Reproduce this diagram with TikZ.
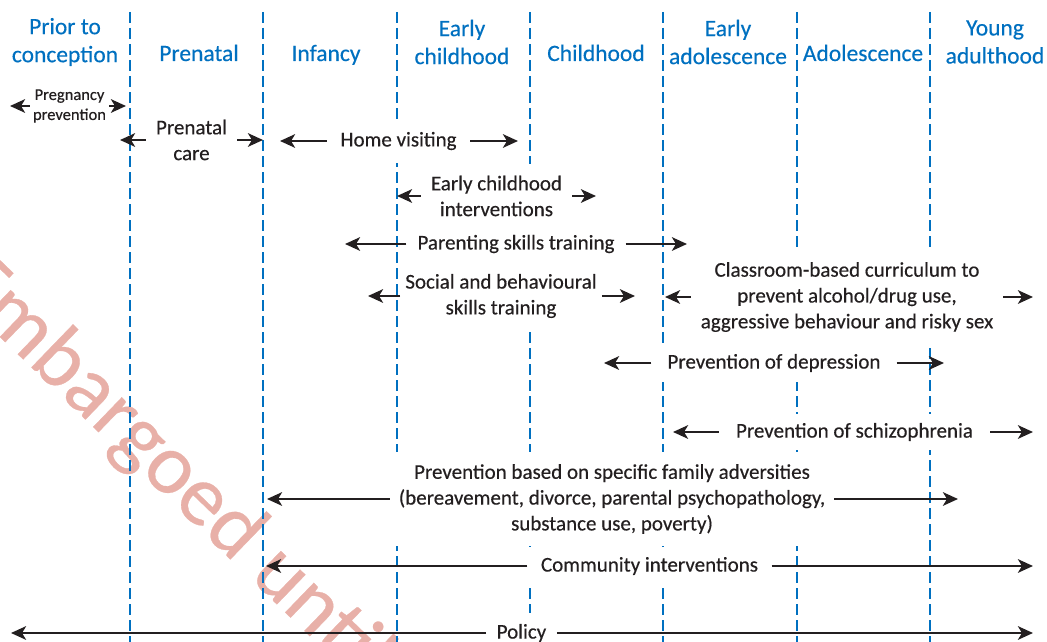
\documentclass[tikz,border=0pt]{standalone}
\usepackage{fontspec}
\setmainfont{Carlito}[FakeBold=0.35]
\usetikzlibrary{arrows.meta}
\definecolor{hdrblue}{RGB}{0,112,192}
\definecolor{ink}{RGB}{35,31,32}
\definecolor{wmark}{RGB}{232,176,168}
\newcommand{\bodyfnt}{\fontsize{21}{25.8}\selectfont}
\newcommand{\hdrfnt}{\fontsize{23.5}{28}\selectfont}
\newcommand{\smallfnt}{\fontsize{16.5}{20}\selectfont}
\newcommand{\wmfnt}{\fontsize{86}{86}\selectfont}
\begin{document}
\begin{tikzpicture}[x=1pt,y=-1pt,
  stage/.style={draw=hdrblue, line width=2.6pt, dash pattern=on 11pt off 5pt},
  hdr/.style={text=hdrblue, font=\hdrfnt, align=center, inner sep=0pt},
  lbl/.style={fill=white, text=ink, font=\bodyfnt, align=center, inner ysep=12pt},
  arr/.style={draw=ink, line width=2.9pt, -{Stealth[length=15pt,width=13.5pt,inset=4pt]}},
]
\path[use as bounding box] (0,0) rectangle (1047,642);
\clip (0,0) rectangle (1047,642);

% watermark
\node[rotate=-44, anchor=west, inner sep=0pt, text=wmark, font=\wmfnt] (wm) at (-37,270) {Embargoed until};

% stage separators
\foreach \sx in {130,263,397,530,663,797,930}
  \draw[stage] (\sx,12) -- (\sx,642);

% headers
\node[hdr] (h1) at (65,42) {Prior to\\conception};
\node[hdr, anchor=base] (h2) at (199,61) {Prenatal};
\node[hdr, anchor=base] (h3) at (326,61) {Infancy};
\node[hdr] (h4) at (462,42) {Early\\childhood};
\node[hdr, anchor=base] (h5) at (596,61) {Childhood};
\node[hdr] (h6) at (728,42) {Early\\adolescence};
\node[hdr, anchor=base] (h7) at (863,61) {Adolescence};
\node[hdr] (h8) at (995,42) {Young\\adulthood};

% interventions
\node[lbl, font=\smallfnt, inner xsep=3pt, inner ysep=2pt] (preg) at (69.5,106) {Pregnancy\\prevention};
\node[lbl, inner xsep=10pt] (pc) at (191.5,140) {Prenatal\\care};
\node[lbl, inner xsep=13.5pt, inner ysep=13pt] (hv) at (398.5,141) {Home visiting};
\node[lbl, inner xsep=10pt] (eci) at (496.5,196) {Early childhood\\interventions};
\node[lbl, inner xsep=11pt] (par) at (516,244) {Parenting skills training};
\node[lbl, inner xsep=5pt] (soc) at (501,296) {Social and behavioural\\skills training};
\node[lbl, inner xsep=10pt, inner ysep=14.5pt] (cls) at (847,297) {Classroom-based curriculum to\\prevent alcohol/drug use,\\aggressive behaviour and risky sex};
\node[lbl, inner xsep=16pt, inner ysep=10pt] (dep) at (774,363) {Prevention of depression};
\node[lbl, inner xsep=17pt, inner ysep=9.5pt] (sch) at (854.5,432) {Prevention of schizophrenia};
\node[lbl, inner xsep=9pt] (fam) at (612,499) {Prevention based on specific family adversities\\(bereavement, divorce, parental psychopathology,\\substance use, poverty)};
\node[lbl, inner xsep=13.5pt, inner ysep=10.5pt] (com) at (649.5,566) {Community interventions};
\node[lbl, inner xsep=10.5pt, inner ysep=11.5pt] (pol) at (521.5,633) {Policy};

% arrow end points
\coordinate (pregL) at (10,106);   \coordinate (pregR) at (126,106);
\coordinate (pcL) at (120,140);    \coordinate (pcR) at (263,140);
\coordinate (hvL) at (280,141);    \coordinate (hvR) at (518,141);
\coordinate (eciL) at (397,196);   \coordinate (eciR) at (596,196);
\coordinate (parL) at (345,244);   \coordinate (parR) at (687,244);
\coordinate (socL) at (368,296);   \coordinate (socR) at (635,296);
\coordinate (clsL) at (665,297);   \coordinate (clsR) at (1033,297);
\coordinate (depL) at (604,363);   \coordinate (depR) at (944,363);
\coordinate (schL) at (673,432);   \coordinate (schR) at (1033,432);
\coordinate (famL) at (267,499);   \coordinate (famR) at (958,499);
\coordinate (comL) at (266,566);   \coordinate (comR) at (1033,566);
\coordinate (polL) at (11,633);    \coordinate (polR) at (1033,633);

\foreach \n in {preg,pc,hv,eci,par,soc,cls,dep,sch,fam,com,pol}{
  \draw[arr] (\n.west) -- (\n.west -| \n L);
  \draw[arr] (\n.east) -- (\n.east -| \n R);
}
\end{tikzpicture}
\end{document}
